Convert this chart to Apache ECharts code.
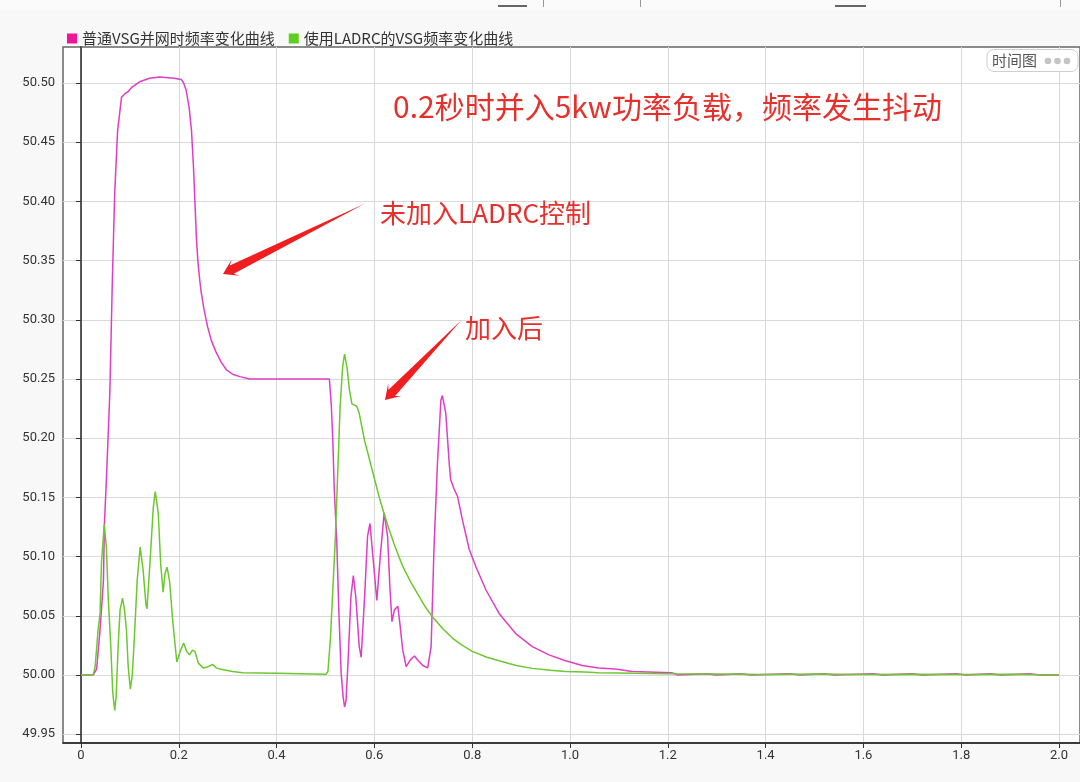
<!DOCTYPE html>
<html>
<head>
<meta charset="utf-8">
<script src="https://cdn.jsdelivr.net/npm/echarts@6/dist/echarts.min.js"></script>
<style>
html,body{margin:0;padding:0;background:#f8f8f8;}
#c{width:1080px;height:782px;}
</style>
</head>
<body>
<div id="c"></div>
<script>
// ---- data ----
const seriesNames = ['普通VSG并网时频率变化曲线', '使用LADRC的VSG频率变化曲线'];
const xTicks = [0, 0.2, 0.4, 0.6, 0.8, 1.0, 1.2, 1.4, 1.6, 1.8, 2.0];
const yTicks = [49.95, 50.00, 50.05, 50.10, 50.15, 50.20, 50.25, 50.30, 50.35, 50.40, 50.45, 50.50];

const normalVSG = [
  [0,50.000],[0.025,50.000],[0.032,50.005],[0.039,50.038],[0.046,50.080],[0.048,50.128],[0.052,50.165],
  [0.059,50.238],[0.064,50.330],[0.069,50.407],[0.075,50.460],[0.083,50.488],[0.090,50.491],[0.097,50.493],
  [0.103,50.496],[0.120,50.501],[0.140,50.504],[0.161,50.505],[0.190,50.504],[0.205,50.503],[0.210,50.500],
  [0.215,50.494],[0.221,50.480],[0.226,50.460],[0.230,50.430],[0.233,50.400],[0.236,50.370],[0.239,50.350],
  [0.243,50.333],[0.246,50.323],[0.252,50.308],[0.259,50.294],[0.267,50.282],[0.277,50.272],[0.287,50.264],
  [0.297,50.258],[0.310,50.254],[0.325,50.252],[0.345,50.250],[0.365,50.250],[0.508,50.250],
  [0.512,50.227],[0.515,50.198],[0.518,50.156],[0.523,50.114],[0.527,50.058],[0.532,50.002],[0.536,49.982],
  [0.539,49.973],[0.542,49.978],[0.546,50.010],[0.552,50.066],[0.557,50.084],[0.562,50.066],[0.569,50.024],
  [0.573,50.015],[0.580,50.066],[0.586,50.117],[0.591,50.128],[0.597,50.100],[0.605,50.063],[0.612,50.100],
  [0.620,50.137],[0.627,50.117],[0.632,50.072],[0.636,50.045],[0.641,50.055],[0.648,50.058],[0.652,50.044],
  [0.658,50.021],[0.665,50.007],[0.674,50.013],[0.682,50.016],[0.690,50.012],[0.699,50.008],[0.709,50.006],
  [0.716,50.024],[0.722,50.108],[0.729,50.179],[0.736,50.232],[0.739,50.236],[0.746,50.221],[0.753,50.179],
  [0.756,50.165],[0.763,50.157],[0.770,50.151],[0.780,50.131],[0.794,50.106],[0.808,50.091],[0.828,50.072],
  [0.855,50.052],[0.889,50.035],[0.923,50.024],[0.957,50.017],[0.991,50.012],[1.025,50.008],[1.059,50.006],
  [1.093,50.005],[1.127,50.003],[1.208,50.002],
  [1.22,50.000],[1.28,50.001],[1.30,50.000],[1.35,50.001],[1.37,50.000],[1.45,50.001],[1.47,50.000],
  [1.52,50.001],[1.54,50.000],[1.62,50.001],[1.64,50.000],[1.70,50.001],[1.72,50.000],[1.79,50.001],
  [1.81,50.000],[1.86,50.001],[1.88,50.000],[1.94,50.001],[1.96,50.000],[2.0,50.000]
];

const ladrcVSG = [
  [0,50.000],[0.025,50.000],[0.029,50.007],[0.035,50.038],[0.039,50.052],[0.042,50.095],[0.0476,50.127],
  [0.052,50.108],[0.0557,50.066],[0.061,50.024],[0.065,49.985],[0.069,49.970],[0.072,49.982],[0.076,50.024],
  [0.080,50.055],[0.085,50.065],[0.089,50.055],[0.093,50.038],[0.0966,50.007],[0.101,49.988],[0.105,50.000],
  [0.110,50.038],[0.115,50.080],[0.121,50.108],[0.127,50.089],[0.133,50.059],[0.135,50.056],[0.141,50.094],
  [0.148,50.142],[0.152,50.155],[0.158,50.137],[0.163,50.094],[0.168,50.070],[0.172,50.086],[0.176,50.091],
  [0.181,50.080],[0.188,50.044],[0.196,50.011],[0.203,50.020],[0.210,50.027],[0.216,50.020],[0.222,50.017],
  [0.228,50.021],[0.233,50.020],[0.240,50.010],[0.250,50.006],[0.260,50.007],[0.269,50.009],[0.277,50.006],
  [0.284,50.005],[0.310,50.003],[0.331,50.002],[0.399,50.0014],[0.450,50.001],[0.501,50.0006],[0.505,50.003],
  [0.510,50.030],[0.515,50.072],[0.520,50.114],[0.525,50.170],[0.530,50.227],[0.535,50.260],[0.539,50.271],
  [0.544,50.260],[0.549,50.241],[0.554,50.229],[0.564,50.227],[0.569,50.221],[0.580,50.198],[0.590,50.182],
  [0.600,50.166],[0.610,50.150],[0.620,50.136],[0.630,50.123],[0.640,50.111],[0.650,50.100],[0.660,50.090],
  [0.675,50.078],[0.692,50.066],[0.705,50.057],[0.719,50.049],[0.740,50.039],[0.760,50.031],[0.780,50.025],
  [0.800,50.020],[0.830,50.015],[0.855,50.012],[0.890,50.008],[0.923,50.0056],[0.960,50.004],[0.991,50.003],
  [1.030,50.0025],[1.059,50.002],[1.127,50.0014],[1.20,50.001],
  [1.30,50.0008],[1.40,50.0005],[1.50,50.0008],[1.60,50.0004],[1.70,50.0007],[1.80,50.0004],[1.90,50.0006],[2.0,50.000]
];

// ---- chart ----
const chart = echarts.init(document.getElementById('c'));
const CJK = '"Noto Sans CJK SC", "Noto Sans", sans-serif';

function arrowShape(tail, tip, headLen, headHalf, shaftHalf) {
  const dx = tip[0] - tail[0], dy = tip[1] - tail[1];
  const L = Math.hypot(dx, dy);
  const ux = dx / L, uy = dy / L, nx = -uy, ny = ux;
  const bx = tip[0] - ux * headLen, by = tip[1] - uy * headLen;
  const sx = tip[0] - ux * headLen * 0.7, sy = tip[1] - uy * headLen * 0.7;
  return [
    tail,
    [sx + nx * shaftHalf, sy + ny * shaftHalf],
    [bx + nx * headHalf, by + ny * headHalf],
    tip,
    [bx - nx * headHalf, by - ny * headHalf],
    [sx - nx * shaftHalf, sy - ny * shaftHalf]
  ];
}

const option = {
  backgroundColor: '#f8f8f8',
  animation: false,
  legend: {
    left: 62, top: 26,
    itemWidth: 10, itemHeight: 10, itemGap: 14,
    icon: 'rect',
    textStyle: { fontSize: 15, color: '#333', fontFamily: CJK },
    data: seriesNames
  },
  grid: {
    left: 63, top: 47, right: -2, bottom: 39,
    show: true, backgroundColor: '#fff', borderColor: '#666', borderWidth: 1.5
  },
  xAxis: {
    type: 'value', min: -0.03673, max: 2.0429,
    axisLine: { show: true, lineStyle: { color: '#222', width: 1.5 } },
    axisTick: { show: true, length: 5, lineStyle: { color: '#333' }, customValues: xTicks },
    axisLabel: { customValues: xTicks, fontSize: 13, color: '#333', margin: 6, fontFamily: 'Roboto, sans-serif',
      formatter: v => (v === 0 ? '0' : v.toFixed(1)) },
    splitLine: { show: true, lineStyle: { color: '#d9d9d9', width: 1 } }
  },
  yAxis: {
    type: 'value', min: 49.94257, max: 50.5304,
    axisLine: { show: true, lineStyle: { color: '#222', width: 1.5 } },
    axisTick: { show: true, length: 5, lineStyle: { color: '#333' }, customValues: yTicks },
    axisLabel: { customValues: yTicks, fontSize: 13, color: '#333', margin: 8, fontFamily: 'Roboto, sans-serif',
      formatter: v => v.toFixed(2) },
    splitLine: { show: true, lineStyle: { color: '#d9d9d9', width: 1 } }
  },
  series: [
    { name: seriesNames[0], type: 'line', data: normalVSG, showSymbol: false, symbol: 'none',
      color: '#f0169a', lineStyle: { color: '#e03ec4', width: 1.5 } },
    { name: seriesNames[1], type: 'line', data: ladrcVSG, showSymbol: false, symbol: 'none',
      color: '#5fce1c', lineStyle: { color: '#6cc82e', width: 1.5 } }
  ],
  graphic: [
    // window chrome at top
    { type: 'rect', shape: { x: 0, y: 0, width: 1080, height: 10 }, style: { fill: '#fbfbfb' }, silent: true },
    { type: 'rect', shape: { x: 498, y: 5, width: 29, height: 2 }, style: { fill: '#666' }, silent: true },
    { type: 'rect', shape: { x: 835, y: 5, width: 31, height: 2 }, style: { fill: '#666' }, silent: true },
    { type: 'line', shape: { x1: 543.5, y1: 0, x2: 543.5, y2: 7 }, style: { stroke: '#999', lineWidth: 1 }, silent: true },
    { type: 'line', shape: { x1: 640.5, y1: 0, x2: 640.5, y2: 7 }, style: { stroke: '#999', lineWidth: 1 }, silent: true },
    { type: 'line', shape: { x1: 1060.5, y1: 0, x2: 1060.5, y2: 7 }, style: { stroke: '#999', lineWidth: 1 }, silent: true },
    // 时间图 tag
    { type: 'rect', shape: { x: 987, y: 49.5, width: 91, height: 22, r: 7 },
      style: { fill: '#fff', stroke: '#cfcfcf', lineWidth: 1 }, z: 100 },
    { type: 'text', x: 992, y: 60.5, style: { text: '时间图', fontSize: 15, fill: '#555', fontFamily: CJK, textVerticalAlign: 'middle' }, z: 101 },
    { type: 'circle', shape: { cx: 1048, cy: 61, r: 3.3 }, style: { fill: '#c4c4c4' }, z: 101 },
    { type: 'circle', shape: { cx: 1057.5, cy: 61, r: 3.3 }, style: { fill: '#c4c4c4' }, z: 101 },
    { type: 'circle', shape: { cx: 1067, cy: 61, r: 3.3 }, style: { fill: '#c4c4c4' }, z: 101 },
    // annotations
    { type: 'text', x: 393, y: 107, style: { text: '0.2秒时并入5kw功率负载，频率发生抖动', fontSize: 30, fill: '#e5302c', fontFamily: CJK, textVerticalAlign: 'middle' }, z: 100 },
    { type: 'text', x: 380, y: 213, style: { text: '未加入LADRC控制', fontSize: 26, fill: '#e5302c', fontFamily: CJK, textVerticalAlign: 'middle' }, z: 100 },
    { type: 'text', x: 465, y: 328, style: { text: '加入后', fontSize: 26, fill: '#e5302c', fontFamily: CJK, textVerticalAlign: 'middle' }, z: 100 },
    { type: 'polygon', shape: { points: arrowShape([365, 203.5], [223, 274], 14, 9, 4.5) }, style: { fill: '#f01e1e' }, z: 100 },
    { type: 'polygon', shape: { points: arrowShape([461.5, 320], [385, 400], 14, 9, 4.5) }, style: { fill: '#f01e1e' }, z: 100 }
  ]
};
chart.setOption(option);
</script>
</body>
</html>
